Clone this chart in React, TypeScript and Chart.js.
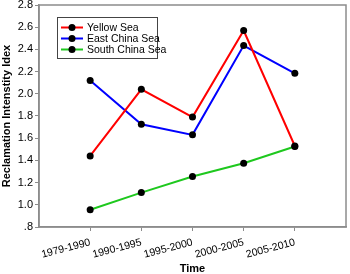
import React, { useEffect, useRef } from "react";
import { Chart, registerables } from "chart.js";

Chart.register(...registerables);

const categories = ["1979-1990", "1990-1995", "1995-2000", "2000-2005", "2005-2010"];
const yellowSea = [1.44, 2.04, 1.79, 2.57, 1.53];
const eastChinaSea = [2.12, 1.725, 1.63, 2.435, 2.185];
const southChinaSea = [0.955, 1.11, 1.255, 1.375, 1.525];
const seriesNames = ["Yellow Sea", "East China Sea", "South China Sea"];
const seriesColors = ["#ff0000", "#0000ff", "#1ec81e"];
const yTicks = [0.8, 1.0, 1.2, 1.4, 1.6, 1.8, 2.0, 2.2, 2.4, 2.6, 2.8];

const FONT = "Arial, 'Liberation Sans', sans-serif";
const GRAY = "#8c8c8c";

const framePlugin = {
  id: "frame",
  afterDatasetsDraw(chart: any) {
    const { ctx, chartArea } = chart;
    ctx.save();
    ctx.strokeStyle = GRAY;
    ctx.lineWidth = 1.5;
    ctx.strokeRect(chartArea.left, chartArea.top, chartArea.right - chartArea.left, chartArea.bottom - chartArea.top);
    ctx.restore();
  },
};

const legendPlugin = {
  id: "boxLegend",
  afterDraw(chart: any) {
    const { ctx, chartArea } = chart;
    const x0 = chartArea.left + 18;
    const y0 = chartArea.top + 12;
    const w = 100;
    const h = 41;
    ctx.save();
    ctx.fillStyle = "#fff";
    ctx.fillRect(x0, y0, w, h);
    ctx.strokeStyle = "#444";
    ctx.lineWidth = 1;
    ctx.strokeRect(x0 + 0.5, y0 + 0.5, w, h);
    ctx.font = `10.5px ${FONT}`;
    ctx.textBaseline = "middle";
    seriesNames.forEach((name, i) => {
      const y = y0 + 10.5 + i * 11;
      ctx.strokeStyle = seriesColors[i];
      ctx.lineWidth = 2;
      ctx.beginPath();
      ctx.moveTo(x0 + 4, y);
      ctx.lineTo(x0 + 26, y);
      ctx.stroke();
      ctx.fillStyle = "#000";
      ctx.beginPath();
      ctx.arc(x0 + 15, y, 3.5, 0, Math.PI * 2);
      ctx.fill();
      ctx.fillStyle = "#000";
      ctx.fillText(name, x0 + 30, y + 0.5);
    });
    ctx.restore();
  },
};

export default function App() {
  const ref = useRef<HTMLCanvasElement>(null);
  useEffect(() => {
    if (!ref.current) return;
    const mk = (vals: number[], i: number) => ({
      label: seriesNames[i],
      data: vals.map((v, k) => ({ x: k + 1, y: v })),
      borderColor: seriesColors[i],
      backgroundColor: "#000",
      borderWidth: 2,
      pointRadius: 3.5,
      pointBackgroundColor: "#000",
      pointBorderColor: "#000",
      pointBorderWidth: 0,
      tension: 0,
    });
    const chart = new Chart(ref.current, {
      type: "line",
      data: {
        datasets: [mk(yellowSea, 0), mk(eastChinaSea, 1), mk(southChinaSea, 2)],
      },
      plugins: [framePlugin, legendPlugin],
      options: {
        animation: false,
        responsive: false,
        maintainAspectRatio: false,
        layout: { padding: { top: 5, right: 1, left: 0, bottom: 0 } },
        plugins: { legend: { display: false }, tooltip: { enabled: false } },
        scales: {
          x: {
            type: "linear",
            min: 0,
            max: 6,
            afterBuildTicks: (scale: any) => {
              scale.ticks = categories.map((_, i) => ({ value: i + 1 }));
            },
            afterFit: (scale: any) => {
              scale.height = 47;
            },
            grid: { drawOnChartArea: false, drawTicks: true, tickLength: 4, color: GRAY },
            border: { display: true, color: GRAY, width: 1.5 },
            ticks: {
              autoSkip: false,
              minRotation: 15,
              maxRotation: 15,
              padding: 5,
              color: "#000",
              font: { family: FONT, size: 10.5 },
              callback: (v: any) => categories[Number(v) - 1] ?? "",
            },
            title: {
              display: true,
              text: "Time",
              color: "#000",
              font: { family: FONT, size: 11, weight: "bold" },
              padding: { top: 0, bottom: -2 },
            },
          },
          y: {
            min: 0.8,
            max: 2.8,
            afterBuildTicks: (scale: any) => {
              scale.ticks = yTicks.map((v) => ({ value: v }));
            },
            afterFit: (scale: any) => {
              scale.width = 39;
              scale.paddingTop = 0;
              scale.paddingBottom = 0;
            },
            grid: { drawOnChartArea: false, drawTicks: true, tickLength: 4, color: GRAY },
            border: { display: true, color: GRAY, width: 1.5 },
            ticks: {
              padding: 2,
              color: "#000",
              font: { family: FONT, size: 11 },
              callback: (v: any) => {
                const s = Number(v).toFixed(1);
                return s.startsWith("0") ? s.slice(1) : s;
              },
            },
            title: {
              display: true,
              text: "Reclamation Intenstity Idex",
              color: "#000",
              font: { family: FONT, size: 11, weight: "bold" },
              padding: { top: 0, bottom: 0 },
            },
          },
        },
      },
    } as any);
    return () => chart.destroy();
  }, []);
  return (
    <div style={{ position: "fixed", left: 0, top: 0, width: 350, height: 274, background: "#fff" }}>
      <canvas ref={ref} width={350} height={274} style={{ width: 350, height: 274 }} />
    </div>
  );
}
